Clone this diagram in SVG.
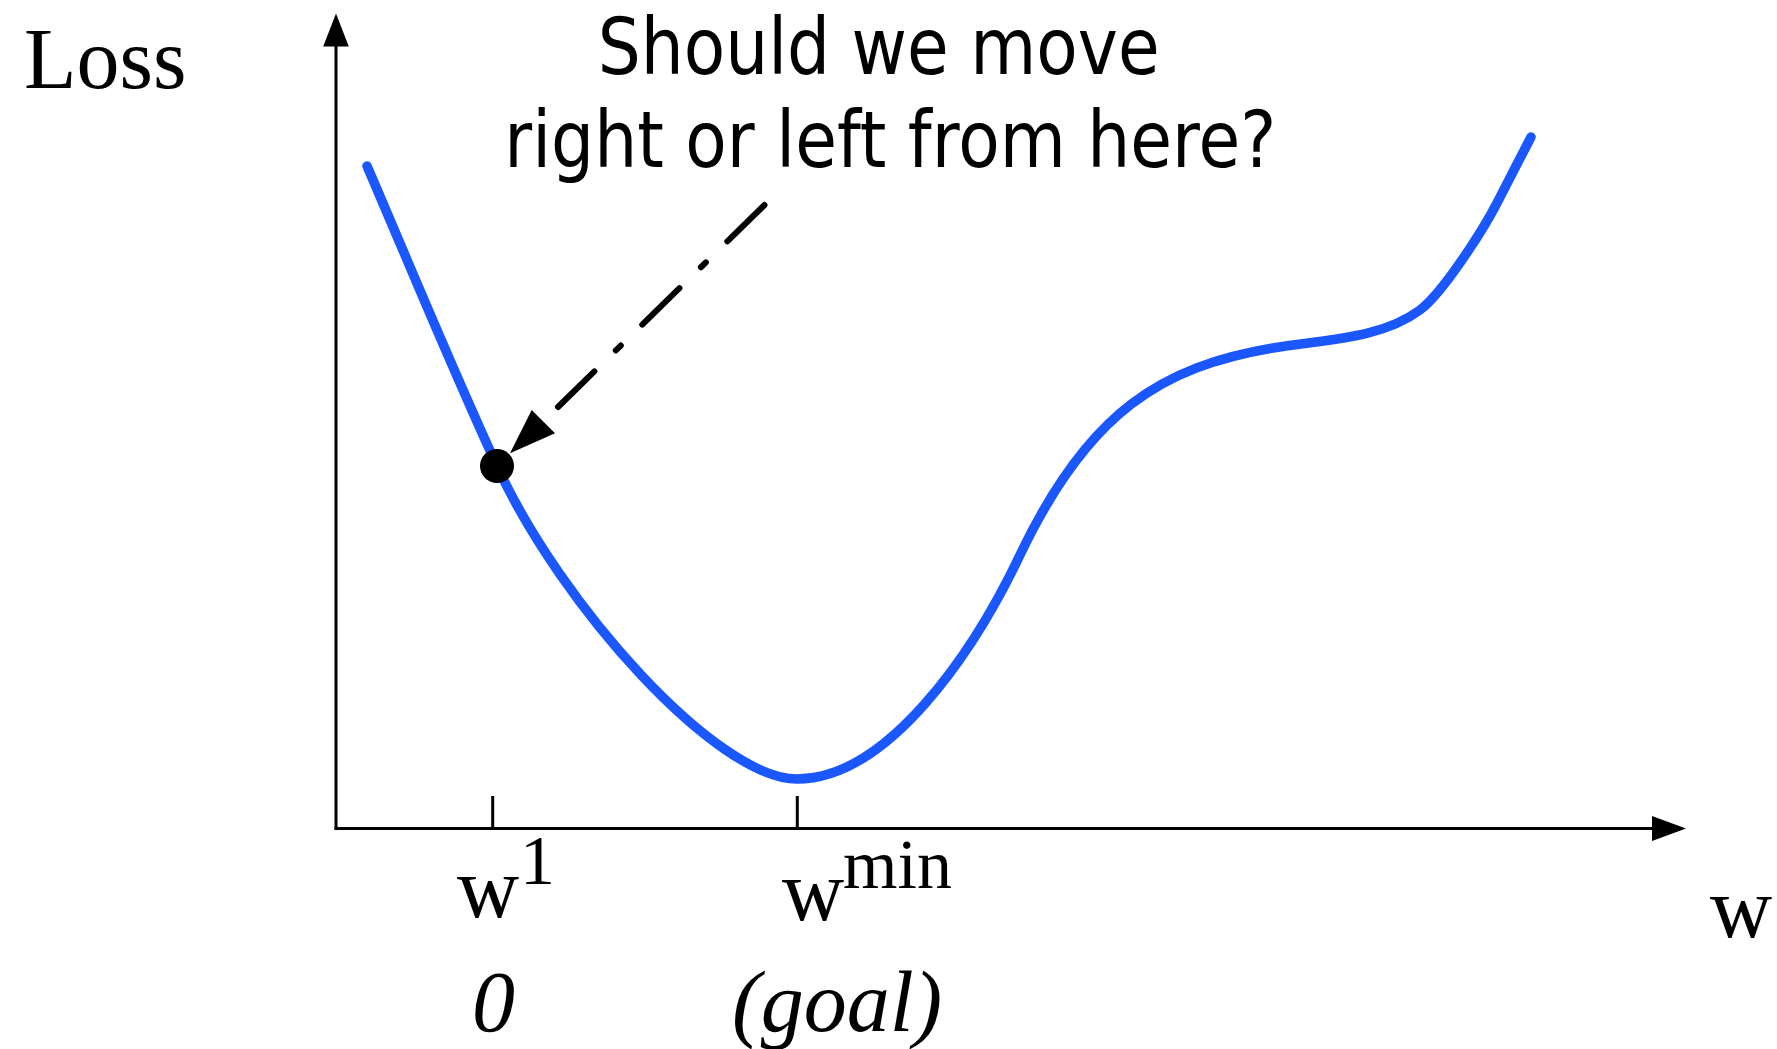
<svg xmlns="http://www.w3.org/2000/svg" width="1777" height="1049" viewBox="0 0 1777 1049">
<style>
.serif{font-family:"Liberation Serif","Times New Roman",serif;fill:#000}
.big{font-size:86px}
.sup{font-size:70px}
.it{font-style:italic}
.q{font-family:"DejaVu Sans",Verdana,sans-serif;font-size:78px;fill:#000}
.axis{stroke:#000;stroke-width:3;fill:none}
.curve{stroke:#1b57ff;stroke-width:9.5;fill:none;stroke-linecap:round;stroke-linejoin:round}
.dash{stroke:#000;stroke-width:6;fill:none;stroke-linecap:round;stroke-dasharray:52 30 7 30}
</style>
<rect width="1777" height="1049" fill="#fff"/>
<g id="axes">
<line class="axis" x1="336" y1="829.5" x2="336" y2="44"/>
<polygon points="336,13.5 323.2,46.5 348.8,46.5" fill="#000"/>
<line class="axis" x1="334.5" y1="828.5" x2="1654" y2="828.5"/>
<polygon points="1686,828.5 1652,816 1652,841" fill="#000"/>
<line class="axis" x1="492.7" y1="796" x2="492.7" y2="828"/>
<line class="axis" x1="797.3" y1="796" x2="797.3" y2="828"/>
</g>
<g id="curve">
<path class="curve" d="M367,166 C410,266 451,366 497,466 C561.4,606 717,779 797,779 C887,779 972.7,654.3 1020,555 C1088.8,410.5 1163,366.7 1273,348 C1323,339.5 1379.8,339.7 1420,310 C1442.5,293.4 1483.3,229.7 1497,203 L1531,137"/>
</g>
<g id="point">
<circle cx="497" cy="466" r="17" fill="#000"/>
</g>
<g id="connectors">
<path class="dash" d="M764.5,205 L558,407"/>
<polygon points="510,453.3 531.7,410 555,433.3" fill="#000"/>
</g>
<g id="question">
<text class="q" x="878.7" y="74" text-anchor="middle" textLength="562" lengthAdjust="spacingAndGlyphs">Should we move</text>
<text class="q" x="890.3" y="167" text-anchor="middle" textLength="772" lengthAdjust="spacingAndGlyphs">right or left from here?</text>
</g>
<g id="labels">
<text class="serif big" x="24" y="88">Loss</text>
<text class="serif big" x="1710" y="937">w</text>
<text class="serif big" x="457" y="917">w</text>
<text class="serif sup" x="520" y="884">1</text>
<text class="serif big" x="782" y="920">w</text>
<text class="serif sup" x="843" y="888">min</text>
<text class="serif big it" x="472" y="1031">0</text>
<text class="serif big it" x="732" y="1031">(goal)</text>
</g>
</svg>
